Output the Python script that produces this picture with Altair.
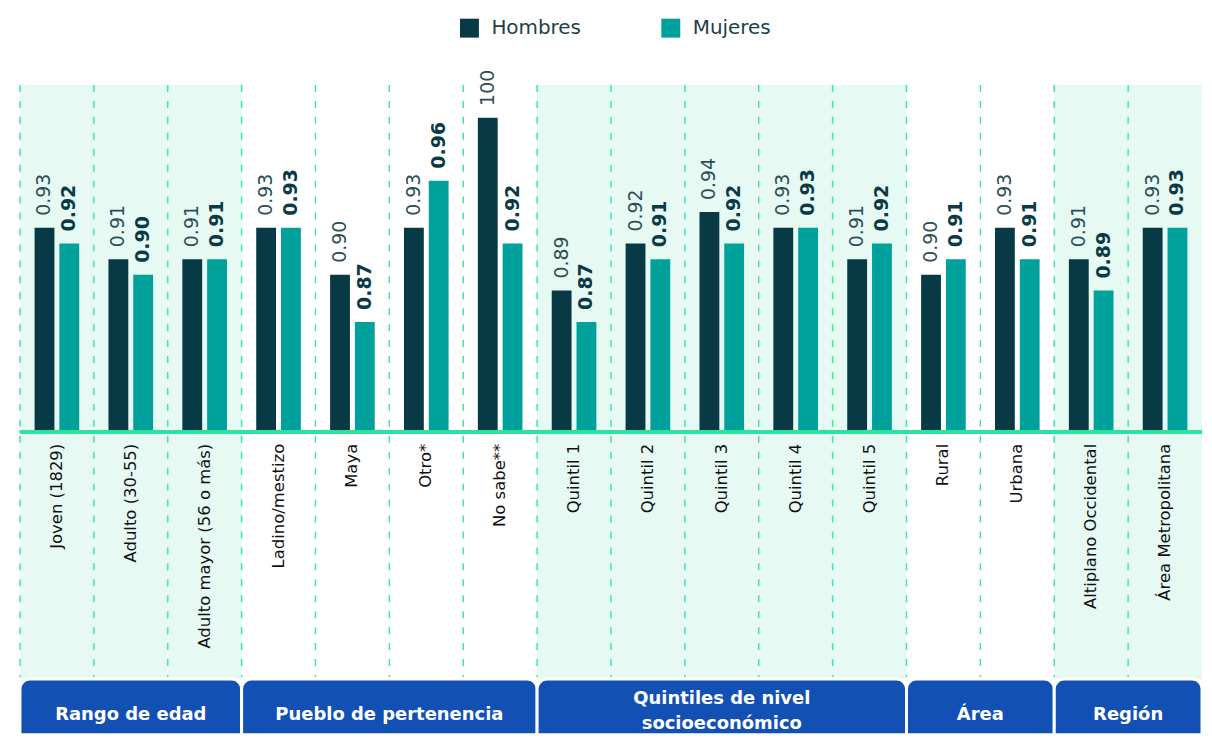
import altair as alt
import pandas as pd

# ---------------- data ----------------
categories = [
    "Joven (1829)", "Adulto (30-55)", "Adulto mayor (56 o más)",
    "Ladino/mestizo", "Maya", "Otro*", "No sabe**",
    "Quintil 1", "Quintil 2", "Quintil 3", "Quintil 4", "Quintil 5",
    "Rural", "Urbana",
    "Altiplano Occidental", "Área Metropolitana",
]
hombres = [0.93, 0.91, 0.91, 0.93, 0.90, 0.93, 1.00, 0.89, 0.92, 0.94, 0.93, 0.91, 0.90, 0.93, 0.91, 0.93]
mujeres = [0.92, 0.90, 0.91, 0.93, 0.87, 0.96, 0.92, 0.87, 0.91, 0.92, 0.93, 0.92, 0.91, 0.91, 0.89, 0.93]
hombres_labels = ["0.93", "0.91", "0.91", "0.93", "0.90", "0.93", "100", "0.89",
                  "0.92", "0.94", "0.93", "0.91", "0.90", "0.93", "0.91", "0.93"]
mujeres_labels = ["0.92", "0.90", "0.91", "0.93", "0.87", "0.96", "0.92", "0.87",
                  "0.91", "0.92", "0.93", "0.92", "0.91", "0.91", "0.89", "0.93"]
groups = ["Rango de edad", "Pueblo de pertenencia", "Quintiles de nivel\nsocioeconómico", "Área", "Región"]
group_sizes = [3, 4, 5, 2, 2]
group_shaded = [True, False, True, False, True]
series = ["Hombres", "Mujeres"]
series_colors = ["#083a46", "#00a19b"]
Y_FLOOR = 0.80

# ---------------- tables ----------------
bars = pd.DataFrame(
    [{"cat": c, "sex": "Hombres", "value": v, "label": l} for c, v, l in zip(categories, hombres, hombres_labels)]
    + [{"cat": c, "sex": "Mujeres", "value": v, "label": l} for c, v, l in zip(categories, mujeres, mujeres_labels)]
)
cat_rows, grp_rows = [], []
i = 0
for g, n, s in zip(groups, group_sizes, group_shaded):
    for c in categories[i:i + n]:
        cat_rows.append({"cat": c, "shaded": s})
    grp_rows.append({"group": g, "start": categories[i], "end": categories[i + n - 1],
                     "mid": categories[i + n // 2], "odd": n % 2 == 1,
                     "lines": g.count("\n") + 1})
    i += n
cats_df = pd.DataFrame(cat_rows)
grp_df = pd.DataFrame(grp_rows)

FONT = "DejaVu Sans"
W, H = 1186, 650
LINE_H = 25
xscale = alt.Scale(domain=categories, paddingInner=0, paddingOuter=0)
yscale = alt.Scale(domain=[Y_FLOOR, 1.0], range=[348, 33])
offscale = alt.Scale(domain=series, paddingInner=0.2, paddingOuter=0.59)


def X(f, bp=None):
    if bp is None:
        return alt.X(f, scale=xscale, axis=None, title=None)
    return alt.X(f, scale=xscale, axis=None, title=None, bandPosition=bp)


shade = alt.Chart(cats_df).transform_filter("datum.shaded").mark_rect(color="#e6f9f2").encode(
    x=X("cat:N"), y=alt.value(0), y2=alt.value(596))

dashes = alt.Chart(cats_df).mark_rule(color="#3ee8a2", strokeWidth=1.5, strokeDash=[7, 9]).encode(
    x=X("cat:N", 0), y=alt.value(0), y2=alt.value(594))

base = alt.Chart(bars)
barl = base.mark_bar().encode(
    x=X("cat:N"),
    xOffset=alt.XOffset("sex:N", scale=offscale),
    y=alt.Y("value:Q", scale=yscale, axis=None),
    y2=alt.datum(Y_FLOOR),
    color=alt.Color("sex:N", scale=alt.Scale(domain=series, range=series_colors),
                    legend=alt.Legend(title=None, orient="none", legendX=441, legendY=-67,
                                      direction="horizontal", symbolType="square", symbolSize=361,
                                      symbolStrokeWidth=0, labelFont=FONT, labelFontSize=20,
                                      labelColor="#1d3f48", labelOffset=12, columnPadding=80,
                                      padding=0)),
)


def value_text(sex, weight, color):
    return base.transform_filter(alt.datum.sex == sex).mark_text(
        angle=270, align="left", baseline="middle", dx=12, font=FONT, fontSize=19,
        fontWeight=weight, color=color).encode(
        x=X("cat:N"), xOffset=alt.XOffset("sex:N", scale=offscale),
        y=alt.Y("value:Q", scale=yscale, axis=None), text="label:N")


hl = value_text("Hombres", "normal", "#2c4d55")
ml = value_text("Mujeres", "bold", "#0a3a45")

baseline = alt.Chart(cats_df).mark_rule(color="#2de39c", strokeWidth=3).encode(
    x=alt.value(0), x2=alt.value(W), y=alt.value(348))

catlab = alt.Chart(cats_df).mark_text(angle=270, align="right", baseline="middle", font=FONT,
                                      fontSize=16.5, color="#111111").encode(
    x=X("cat:N"), y=alt.value(360), text="cat:N")

boxes = alt.Chart(grp_df).mark_rect(color="#1350b4", cornerRadiusTopLeft=10, cornerRadiusTopRight=10,
                                    stroke="white", strokeWidth=3).encode(
    x=X("start:N", 0), x2=alt.X2("end:N", bandPosition=1), y=alt.value(596), y2=alt.value(H + 2))


def grp_text(odd, lines):
    center = 632 if lines == 1 else 629
    return alt.Chart(grp_df).transform_filter(
        (alt.datum.odd == odd) & (alt.datum.lines == lines)).mark_text(
        font=FONT, fontSize=18, fontWeight="bold", color="white", baseline="middle",
        lineBreak="\n", lineHeight=LINE_H).encode(
        x=X("mid:N", 0.5 if odd else 0), y=alt.value(center - (lines - 1) * LINE_H / 2), text="group:N")


glayers = [grp_text(o, n) for o, n in sorted({(r["odd"], r["lines"]) for r in grp_rows})]

chart = alt.layer(shade, dashes, barl, baseline, hl, ml, catlab, boxes, *glayers).properties(
    width=W, height=H, padding={"left": 10, "top": 9, "right": 0, "bottom": 0}
).configure_view(stroke=None)

chart.save("out.html", embed_options={"renderer": "svg", "actions": False})
